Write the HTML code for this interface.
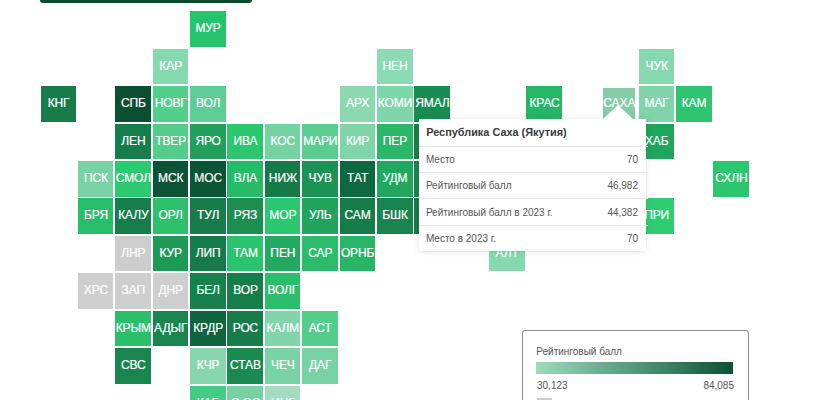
<!DOCTYPE html>
<html><head><meta charset="utf-8"><style>
html,body{margin:0;padding:0;background:#fff;width:820px;height:400px;overflow:hidden;}
body{position:relative;font-family:"Liberation Sans",sans-serif;}
.bar{position:absolute;left:40px;top:-10px;width:211.5px;height:12.7px;background:#064a30;border-radius:3px;}
.t{position:absolute;width:35.6px;height:35.5px;color:#fff;font-size:12px;line-height:35.5px;text-align:center;white-space:nowrap;overflow:visible;letter-spacing:-0.1px;}
.t i{font-style:normal;position:relative;top:0px;left:0.3px;-webkit-text-stroke:0.2px #fff;}
.tip{position:absolute;left:419px;top:118.5px;width:227.2px;height:132.3px;background:#fff;box-shadow:0 0 8px rgba(0,0,0,0.09),0 1px 1.5px rgba(0,0,0,0.07);color:#333;font-size:10px;}
.tip .arrow{position:absolute;left:183px;top:-14px;width:0;height:0;border-left:16px solid transparent;border-right:16px solid transparent;border-bottom:15px solid #fff;}
.tip .ttl{position:absolute;left:7.2px;top:0.6px;height:27.5px;line-height:27.5px;font-weight:bold;font-size:10.9px;color:#3a3a3a;}
.tip .row{position:absolute;left:0;width:229px;height:25.28px;border-top:1px solid #e8e8e8;}
.tip .row span{position:absolute;top:0.3px;line-height:26px;font-size:10px;color:#555;}
.tip .row .k{left:6.9px;}
.tip .row .v{right:10px;}
.leg{position:absolute;left:521.5px;top:330.3px;width:225px;height:100px;border:1px solid #8a8a8a;border-radius:3px;background:#fff;}
.leg .lt{position:absolute;left:13.8px;top:14.8px;font-size:10px;color:#555;}
.leg .gb{position:absolute;left:13.6px;top:30.95px;width:197.4px;height:11.3px;background:linear-gradient(to right,#9edbbd,#0c5234);}
.leg .l1{position:absolute;left:14.5px;top:49px;font-size:10px;color:#555;}
.leg .l2{position:absolute;right:13.5px;top:49px;font-size:10px;color:#555;}
.leg .nd{position:absolute;left:14px;top:67px;width:15px;height:10px;background:#cccccc;}
</style></head><body>
<div class="bar"></div>
<div class="t" style="left:190.02px;top:11.20px;background:#25c46c"><i>МУР</i></div>
<div class="t" style="left:152.64px;top:48.66px;background:#86d9ae"><i>КАР</i></div>
<div class="t" style="left:376.92px;top:48.66px;background:#8cdbb4"><i>НЕН</i></div>
<div class="t" style="left:638.58px;top:48.66px;background:#86d8af"><i>ЧУК</i></div>
<div class="t" style="left:40.50px;top:86.11px;background:#177b4a"><i>КНГ</i></div>
<div class="t" style="left:115.26px;top:86.11px;background:#0b4f33"><i>СПБ</i></div>
<div class="t" style="left:152.64px;top:86.11px;background:#52cf8a"><i>НОВГ</i></div>
<div class="t" style="left:190.02px;top:86.11px;background:#5ecc95"><i>ВОЛ</i></div>
<div class="t" style="left:339.54px;top:86.11px;background:#8cd8b1"><i>АРХ</i></div>
<div class="t" style="left:376.92px;top:86.11px;background:#7fd6a9"><i>КОМИ</i></div>
<div class="t" style="left:414.30px;top:86.11px;background:#188c51"><i>ЯМАЛ</i></div>
<div class="t" style="left:526.44px;top:86.11px;background:#25b666"><i>КРАС</i></div>
<div class="t" style="left:638.58px;top:86.11px;background:#82d2ab"><i>МАГ</i></div>
<div class="t" style="left:675.96px;top:86.11px;background:#2fc46f"><i>КАМ</i></div>
<div class="t" style="left:115.26px;top:123.56px;background:#167e4a"><i>ЛЕН</i></div>
<div class="t" style="left:152.64px;top:123.56px;background:#52cd8b"><i>ТВЕР</i></div>
<div class="t" style="left:190.02px;top:123.56px;background:#20a05a"><i>ЯРО</i></div>
<div class="t" style="left:227.40px;top:123.56px;background:#2bc76f"><i>ИВА</i></div>
<div class="t" style="left:264.78px;top:123.56px;background:#74d3a1"><i>КОС</i></div>
<div class="t" style="left:302.16px;top:123.56px;background:#5bcd91"><i>МАРИ</i></div>
<div class="t" style="left:339.54px;top:123.56px;background:#80d5a8"><i>КИР</i></div>
<div class="t" style="left:376.92px;top:123.56px;background:#2ab868"><i>ПЕР</i></div>
<div class="t" style="left:414.30px;top:123.56px;background:#1a7f4a"><i></i></div>
<div class="t" style="left:638.58px;top:123.56px;background:#20a55c"><i>ХАБ</i></div>
<div class="t" style="left:77.88px;top:161.02px;background:#78d2a3"><i>ПСК</i></div>
<div class="t" style="left:115.26px;top:161.02px;background:#2bca70"><i>СМОЛ</i></div>
<div class="t" style="left:152.64px;top:161.02px;background:#0b5435"><i>МСК</i></div>
<div class="t" style="left:190.02px;top:161.02px;background:#0a5536"><i>МОС</i></div>
<div class="t" style="left:227.40px;top:161.02px;background:#27ba67"><i>ВЛА</i></div>
<div class="t" style="left:264.78px;top:161.02px;background:#167a46"><i>НИЖ</i></div>
<div class="t" style="left:302.16px;top:161.02px;background:#1c9354"><i>ЧУВ</i></div>
<div class="t" style="left:339.54px;top:161.02px;background:#0e6940"><i>ТАТ</i></div>
<div class="t" style="left:376.92px;top:161.02px;background:#22a85e"><i>УДМ</i></div>
<div class="t" style="left:414.30px;top:161.02px;background:#1c8550"><i></i></div>
<div class="t" style="left:713.34px;top:161.02px;background:#2bc66e"><i>СХЛН</i></div>
<div class="t" style="left:77.88px;top:198.47px;background:#28bd6a"><i>БРЯ</i></div>
<div class="t" style="left:115.26px;top:198.47px;background:#167e4b"><i>КАЛУ</i></div>
<div class="t" style="left:152.64px;top:198.47px;background:#2ec06c"><i>ОРЛ</i></div>
<div class="t" style="left:190.02px;top:198.47px;background:#177c4a"><i>ТУЛ</i></div>
<div class="t" style="left:227.40px;top:198.47px;background:#1b8e50"><i>РЯЗ</i></div>
<div class="t" style="left:264.78px;top:198.47px;background:#2bc770"><i>МОР</i></div>
<div class="t" style="left:302.16px;top:198.47px;background:#21a35b"><i>УЛЬ</i></div>
<div class="t" style="left:339.54px;top:198.47px;background:#167c47"><i>САМ</i></div>
<div class="t" style="left:376.92px;top:198.47px;background:#188450"><i>БШК</i></div>
<div class="t" style="left:414.30px;top:198.47px;background:#177b49"><i></i></div>
<div class="t" style="left:638.58px;top:198.47px;background:#2ecd72"><i>ПРИ</i></div>
<div class="t" style="left:115.26px;top:235.93px;background:#cdcdcd"><i>ЛНР</i></div>
<div class="t" style="left:152.64px;top:235.93px;background:#1e9a57"><i>КУР</i></div>
<div class="t" style="left:190.02px;top:235.93px;background:#167b4a"><i>ЛИП</i></div>
<div class="t" style="left:227.40px;top:235.93px;background:#2bc46e"><i>ТАМ</i></div>
<div class="t" style="left:264.78px;top:235.93px;background:#22ab60"><i>ПЕН</i></div>
<div class="t" style="left:302.16px;top:235.93px;background:#2cbb6b"><i>САР</i></div>
<div class="t" style="left:339.54px;top:235.93px;background:#27b566"><i>ОРНБ</i></div>
<div class="t" style="left:489.06px;top:235.93px;background:#86d9af"><i>АЛТ</i></div>
<div class="t" style="left:77.88px;top:273.38px;background:#cecece"><i>ХРС</i></div>
<div class="t" style="left:115.26px;top:273.38px;background:#cecece"><i>ЗАП</i></div>
<div class="t" style="left:152.64px;top:273.38px;background:#cecece"><i>ДНР</i></div>
<div class="t" style="left:190.02px;top:273.38px;background:#17804b"><i>БЕЛ</i></div>
<div class="t" style="left:227.40px;top:273.38px;background:#167e49"><i>ВОР</i></div>
<div class="t" style="left:264.78px;top:273.38px;background:#2cbd6c"><i>ВОЛГ</i></div>
<div class="t" style="left:115.26px;top:310.84px;background:#2bbf6b"><i>КРЫМ</i></div>
<div class="t" style="left:152.64px;top:310.84px;background:#19864f"><i>АДЫГ</i></div>
<div class="t" style="left:190.02px;top:310.84px;background:#0e643f"><i>КРДР</i></div>
<div class="t" style="left:227.40px;top:310.84px;background:#167c4a"><i>РОС</i></div>
<div class="t" style="left:264.78px;top:310.84px;background:#82d4aa"><i>КАЛМ</i></div>
<div class="t" style="left:302.16px;top:310.84px;background:#52cd8b"><i>АСТ</i></div>
<div class="t" style="left:115.26px;top:348.29px;background:#19864f"><i>СВС</i></div>
<div class="t" style="left:190.02px;top:348.29px;background:#88d6ae"><i>КЧР</i></div>
<div class="t" style="left:227.40px;top:348.29px;background:#1a8a50"><i>СТАВ</i></div>
<div class="t" style="left:264.78px;top:348.29px;background:#7ad3a5"><i>ЧЕЧ</i></div>
<div class="t" style="left:302.16px;top:348.29px;background:#78d2a4"><i>ДАГ</i></div>
<div class="t" style="left:190.02px;top:385.75px;background:#44cc82"><i>КАБ</i></div>
<div class="t" style="left:227.40px;top:385.75px;background:#76d2a3"><i>С.ОС</i></div>
<div class="t" style="left:264.78px;top:385.75px;background:#a3dcc0"><i>ИНГ</i></div>
<div class="t" style="left:602.70px;top:87.91px;width:32.40px;height:32.50px;background:#86cca9"></div>
<div class="t" style="left:601.20px;top:86.11px;background:transparent"><i>САХА</i></div>
<div class="tip">
<div class="arrow"></div>
<div class="ttl">Республика Саха (Якутия)</div>
<div class="row" style="top:27.4px"><span class="k">Место</span><span class="v">70</span></div>
<div class="row" style="top:53.68px"><span class="k">Рейтинговый балл</span><span class="v">46,982</span></div>
<div class="row" style="top:79.96px"><span class="k">Рейтинговый балл в 2023 г.</span><span class="v">44,382</span></div>
<div class="row" style="top:106.24px"><span class="k">Место в 2023 г.</span><span class="v">70</span></div>
</div>
<div class="leg">
<div class="lt">Рейтинговый балл</div>
<div class="gb"></div>
<div class="l1">30,123</div>
<div class="l2">84,085</div>
<div class="nd"></div>
</div>
</body></html>
